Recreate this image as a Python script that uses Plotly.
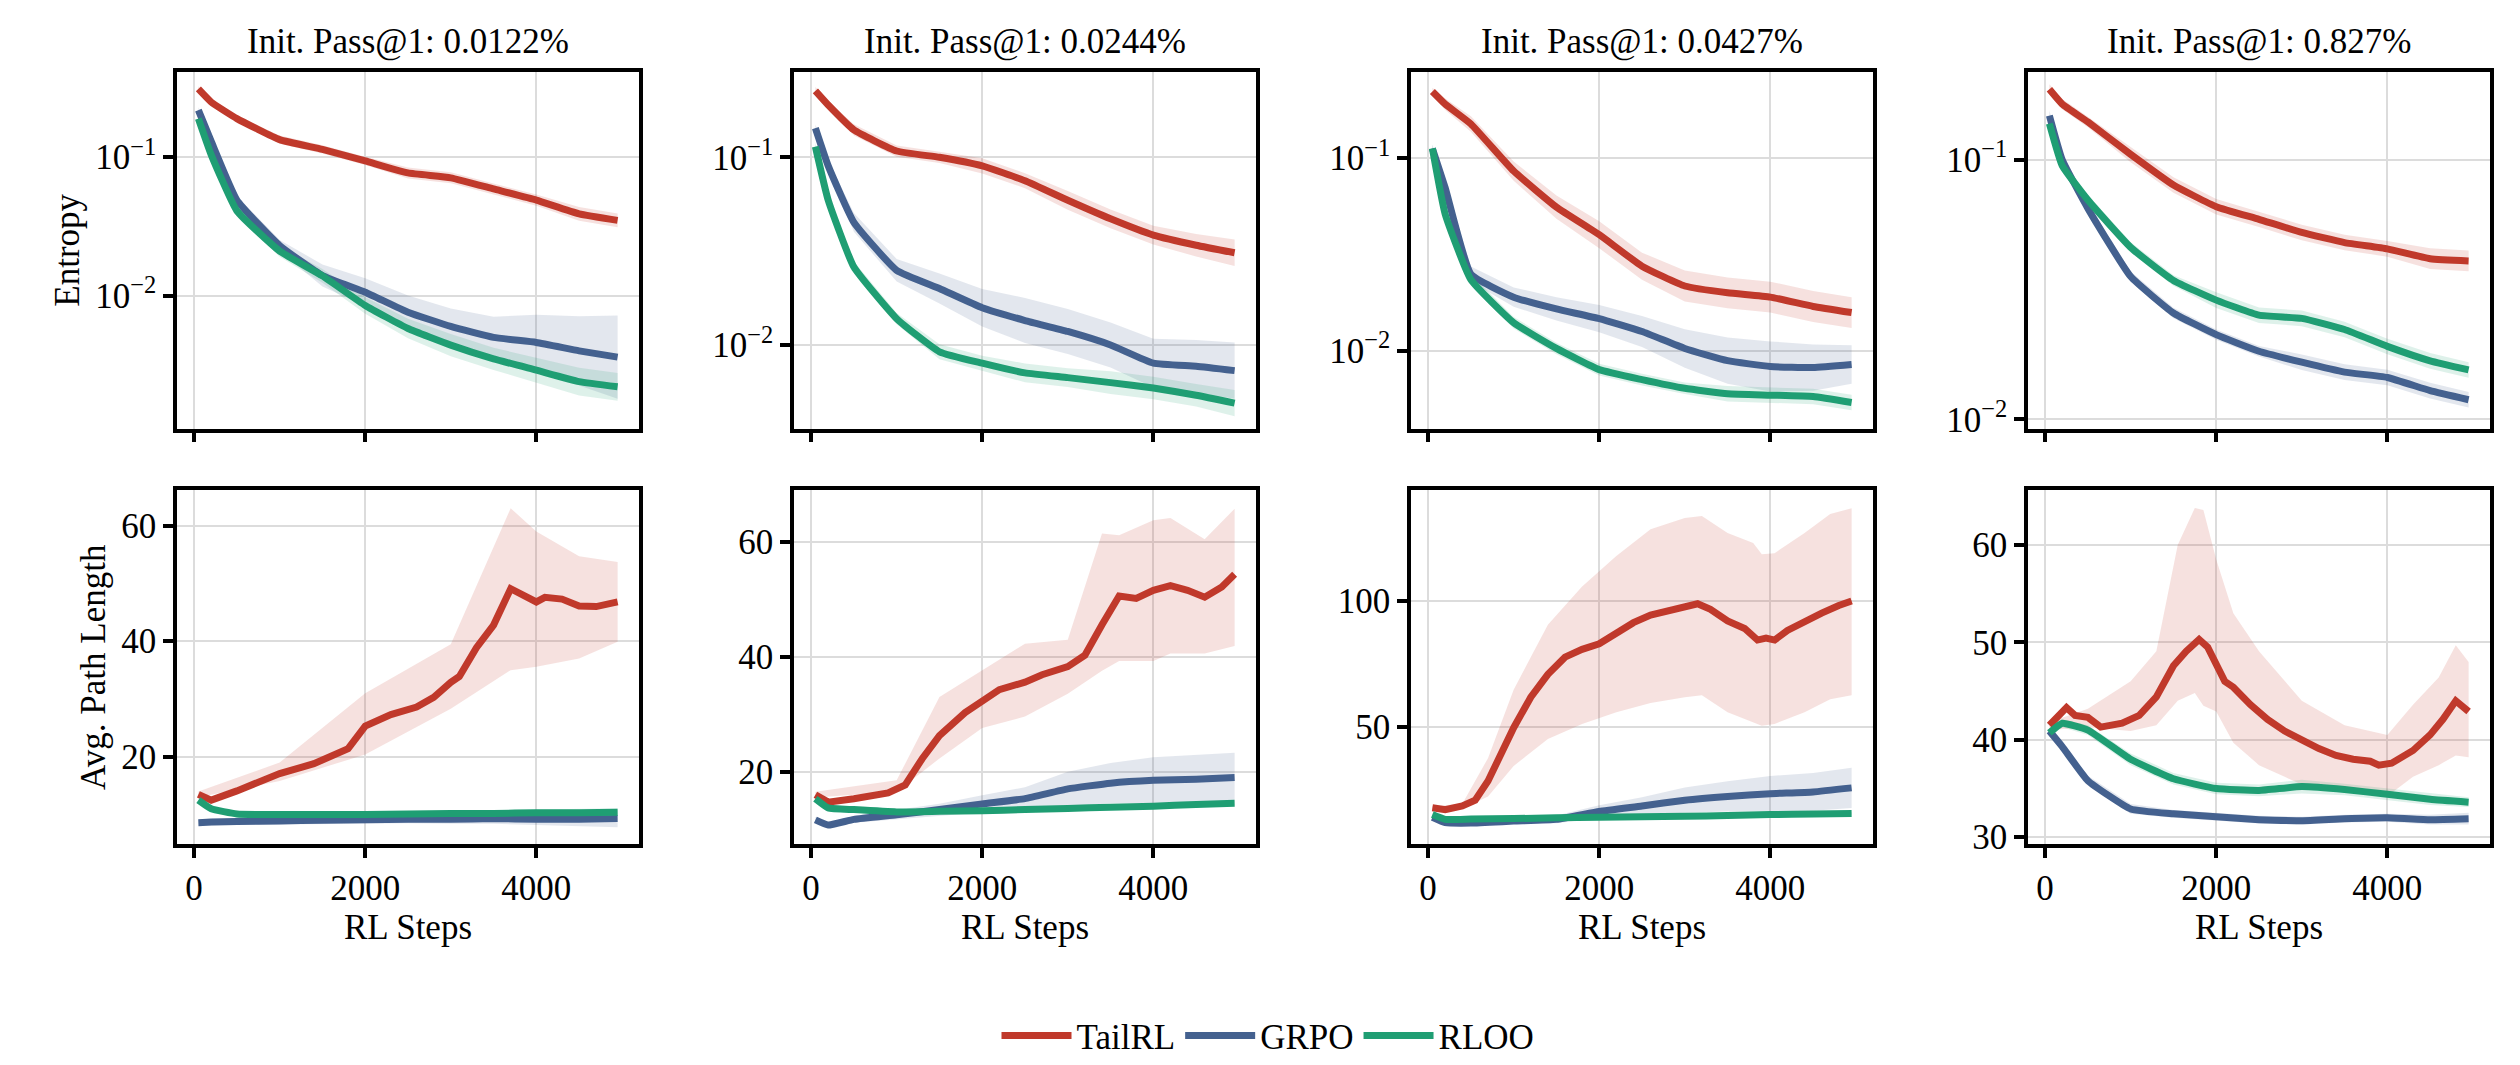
import numpy as np
import plotly.graph_objects as go
from plotly.subplots import make_subplots

METHODS = ["TailRL", "GRPO", "RLOO"]
COLORS = ["#c0392b", "#44618f", "#1f9e73"]
BANDS = ["rgba(192,57,43,0.15)", "rgba(68,97,143,0.15)", "rgba(31,158,115,0.15)"]
TITLES = ["Init. Pass@1: 0.0122%", "Init. Pass@1: 0.0244%",
          "Init. Pass@1: 0.0427%", "Init. Pass@1: 0.827%"]

# entropy, read on a common step grid
ENT_X = [50, 200, 500, 1000, 1500, 2000, 2500, 3000, 3500, 4000, 4500, 4950]
ENT = [
    [[.311, .25, .19, .134, .114, .094, .077, .071, .059, .049, .039, .035],
     [.219, .13, .049, .023, .014, .0106, .0076, .006, .005, .0046, .004, .0036],
     [.19, .104, .041, .021, .0139, .0085, .0058, .0044, .0035, .0029, .0024, .0022]],
    [[.226, .19, .14, .108, .1, .09, .075, .059, .047, .0385, .034, .031],
     [.143, .09, .045, .025, .020, .0158, .0135, .0118, .01, .008, .0077, .0073],
     [.114, .059, .026, .0138, .0092, .008, .0071, .0067, .0063, .0059, .0054, .0049]],
    [[.221, .19, .15, .0855, .0556, .040, .0275, .0217, .020, .019, .017, .0158],
     [.112, .07, .025, .019, .0165, .0147, .0126, .0103, .0089, .0083, .0082, .0085],
     [.112, .051, .0234, .014, .0103, .008, .0071, .0064, .006, .0059, .0058, .0054]],
    [[.187, .164, .14, .105, .08, .066, .059, .0525, .048, .0454, .0416, .0408],
     [.148, .1, .065, .0355, .0257, .0212, .0183, .0166, .0152, .0145, .0129, .0119],
     [.138, .095, .07, .046, .0343, .0288, .0252, .0245, .0222, .0191, .0168, .0155]],
]
# band half-width in decades
ENT_BAND = [
    [[.02, .02, .02, .03, .03, .03, .04, .04, .04, .04, .05, .05],
     [.02, .02, .03, .04, .08, .1, .12, .13, .15, .2, .25, .3],
     [.02, .02, .03, .04, .05, .06, .07, .08, .08, .09, .1, .1]],
    [[.02, .02, .03, .03, .03, .04, .04, .05, .05, .05, .06, .07],
     [.02, .03, .05, .06, .08, .1, .12, .12, .12, .13, .14, .15],
     [.02, .02, .03, .03, .04, .04, .05, .05, .06, .06, .06, .07]],
    [[.02, .03, .04, .05, .06, .07, .07, .08, .08, .08, .08, .08],
     [.02, .03, .04, .05, .06, .07, .08, .1, .12, .13, .12, .1],
     [.02, .02, .03, .03, .03, .03, .03, .03, .04, .04, .04, .04]],
    [[.02, .02, .02, .03, .03, .03, .03, .03, .03, .03, .04, .04],
     [.02, .02, .02, .02, .02, .02, .02, .03, .03, .03, .03, .03],
     [.02, .02, .02, .02, .02, .03, .03, .03, .03, .03, .03, .03]],
]

# avg path length
PL1_RED_X = [50, 200, 500, 800, 1000, 1400, 1600, 1800, 2000, 2300, 2600, 2800, 3000, 3100, 3300, 3500, 3700, 3800, 4000, 4100, 4300, 4500, 4700, 4950]
PL1_RED = [13.5, 12.5, 14.1, 15.8, 17.1, 18.8, 20.1, 21.4, 25.3, 27.3, 28.6, 30.3, 32.9, 33.9, 38.9, 42.8, 49.1, 48.4, 46.8, 47.6, 47.3, 46.1, 46.0, 46.8]
PL1_BX = [50, 1000, 2000, 3000, 3700, 4000, 4500, 4950]
PL1_HI = [14, 19, 31, 39.5, 63, 59, 54.7, 53.7]
PL1_LO = [13, 15.8, 20.4, 28.3, 35, 35.6, 37, 39.9]

PL2_RED_X = [50, 200, 500, 900, 1100, 1300, 1500, 1800, 2000, 2200, 2500, 2700, 3000, 3200, 3400, 3600, 3800, 4000, 4200, 4400, 4600, 4800, 4950]
PL2_RED = [16.0, 14.7, 15.3, 16.3, 17.7, 22.3, 26.3, 30.3, 32.3, 34.3, 35.6, 36.9, 38.3, 40.3, 45.6, 50.6, 50.2, 51.6, 52.4, 51.6, 50.4, 52.2, 54.4]
PL2_BX = [50, 1000, 1500, 2000, 2500, 3000, 3400, 3600, 4000, 4200, 4600, 4950]
PL2_HI = [16.5, 18.5, 33, 37.6, 42.3, 43, 61.5, 61.2, 63.8, 64.2, 60.5, 65.8]
PL2_LO = [15.5, 16.5, 22.3, 27.6, 29.6, 33.6, 37.6, 39.3, 39.3, 40.6, 40.6, 41.9]

PL3_RED_X = [50, 200, 400, 550, 700, 850, 1000, 1200, 1400, 1600, 1800, 2000, 2200, 2400, 2600, 2800, 3000, 3150, 3300, 3500, 3700, 3850, 3950, 4050, 4200, 4400, 4600, 4800, 4950]
PL3_RED = [17.9, 17.1, 18.6, 20.9, 28.5, 39.1, 49.7, 61.8, 70.9, 77.7, 80.8, 83, 87.6, 91.4, 94.4, 95.9, 97.4, 98.9, 96.7, 92.1, 89.1, 84.5, 85.3, 84.5, 88.3, 92.1, 95.2, 98.2, 100]
PL3_BX = [50, 400, 700, 1000, 1400, 1800, 2200, 2600, 3000, 3200, 3500, 3800, 3900, 4050, 4400, 4700, 4950]
PL3_HI = [18.5, 19.5, 37.6, 64.8, 90.6, 105.8, 117.9, 128.5, 133, 133.8, 127, 123, 118.6, 119, 127, 134.5, 136.8]
PL3_LO = [17, 17.5, 22.4, 34.5, 45.2, 51.2, 55.8, 59.5, 61.8, 62.6, 55.8, 52, 50.5, 51.2, 55.8, 61, 62.6]

PL4_RED_X = [50, 150, 250, 350, 500, 650, 900, 1100, 1300, 1500, 1650, 1800, 1900, 2100, 2200, 2400, 2600, 2800, 3000, 3200, 3400, 3600, 3800, 3900, 4050, 4300, 4500, 4650, 4800, 4950]
PL4_RED = [41.5, 42.5, 43.3, 42.5, 42.3, 41.3, 41.7, 42.5, 44.4, 47.6, 49.1, 50.3, 49.5, 46, 45.4, 43.6, 42.1, 40.9, 39.9, 39.1, 38.4, 38, 37.8, 37.4, 37.6, 38.9, 40.5, 42.1, 44, 42.9]
PL4_BX = [50, 500, 1000, 1300, 1550, 1750, 1850, 2000, 2200, 2500, 3000, 3500, 4000, 4300, 4600, 4800, 4950]
PL4_HI = [41.8, 43.2, 46, 49.1, 60, 63.8, 63.6, 58.5, 53, 49.1, 44, 41.5, 40.5, 43.6, 46.4, 49.7, 48]
PL4_LO = [41, 41.3, 40.9, 41.5, 44, 44.8, 43.5, 42.9, 39.7, 37.4, 35.4, 35, 34.2, 36.2, 37.4, 38.4, 38.2]

PL_X = [50, 200, 500, 1000, 1500, 2000, 2500, 3000, 3500, 4000, 4500, 4950]
PL_GRPO = [
    [8.6, 8.7, 8.8, 8.9, 9.0, 9.1, 9.2, 9.2, 9.3, 9.2, 9.2, 9.3],
    [11.6, 10.7, 11.7, 12.5, 13.4, 14.4, 15.3, 17.0, 18.0, 18.5, 18.7, 19.0],
    [14.1, 12.0, 11.8, 12.6, 13.3, 16.4, 18.6, 20.9, 22.4, 23.5, 24.2, 25.8],
    [40.9, 39.3, 35.8, 32.9, 32.4, 32.1, 31.8, 31.7, 31.9, 32.0, 31.8, 31.9],
]
PL_GRPO_BAND = [
    [.6, .6, .6, .6, .6, .6, .7, .8, .9, 1, 1.2, 1.5],
    [.5, .5, .6, .8, 1, 1.5, 2, 3, 3.5, 4, 4.2, 4.3],
    [.5, .5, .8, 1, 1.5, 2.5, 3.5, 5, 6, 7, 7.5, 8],
    [.3, .4, .5, .5, .4, .4, .4, .4, .4, .4, .5, .6],
]
PL_RLOO = [
    [12.5, 11.0, 10.1, 10.0, 10.0, 10.0, 10.1, 10.2, 10.2, 10.3, 10.3, 10.4],
    [15.3, 13.7, 13.4, 13.0, 13.1, 13.2, 13.4, 13.6, 13.8, 14.0, 14.3, 14.5],
    [15.2, 13.3, 13.4, 13.6, 13.9, 14.1, 14.3, 14.5, 14.8, 15.2, 15.4, 15.6],
    [40.7, 41.7, 41.0, 38.0, 36.0, 35.0, 34.8, 35.2, 34.9, 34.4, 33.9, 33.6],
]
PL_RLOO_BAND = [
    [.4, .4, .4, .4, .4, .4, .4, .5, .5, .6, .6, .7],
    [.4, .3, .3, .3, .3, .3, .3, .3, .3, .3, .3, .3],
    [.5, .5, .5, .5, .5, .5, .5, .5, .5, .5, .5, .5],
    [.4, .4, .5, .6, .6, .6, .6, .7, .6, .6, .6, .5],
]
PL_RED = [(PL1_RED_X, PL1_RED, PL1_BX, PL1_HI, PL1_LO), (PL2_RED_X, PL2_RED, PL2_BX, PL2_HI, PL2_LO),
          (PL3_RED_X, PL3_RED, PL3_BX, PL3_HI, PL3_LO), (PL4_RED_X, PL4_RED, PL4_BX, PL4_HI, PL4_LO)]

ENT_RANGE = [[-2.96, -0.384], [-2.446, -0.545], [-2.403, -0.554], [-2.036, -0.661]]
PL_RANGE = [[4.9, 66.1], [7.4, 69], [3.5, 143.9], [29.3, 65.6]]
PL_TICKS = [[20, 40, 60], [20, 40, 60], [50, 100], [30, 40, 50, 60]]

W, H = 2520, 1065
LEFTS = [169, 786, 1403, 2020]
PW = 462
FONT = "Liberation Serif, DejaVu Serif, serif"
FS = 35
LW = 7

fig = make_subplots(rows=2, cols=4)


def band(x, lo, hi, fill, row, col):
    fig.add_scatter(x=x, y=lo, mode="lines", line=dict(width=0), showlegend=False,
                    hoverinfo="skip", row=row, col=col)
    fig.add_scatter(x=x, y=hi, mode="lines", line=dict(width=0), fill="tonexty",
                    fillcolor=fill, showlegend=False, hoverinfo="skip", row=row, col=col)


for c in range(4):
    # entropy row
    for m in range(3):
        v = np.array(ENT[c][m])
        b = np.array(ENT_BAND[c][m])
        band(ENT_X, v / 10 ** b, v * 10 ** b, BANDS[m], 1, c + 1)
    for m in range(3):
        fig.add_scatter(x=ENT_X, y=ENT[c][m], mode="lines", name=METHODS[m],
                        line=dict(color=COLORS[m], width=LW, shape="spline", smoothing=0.4),
                        showlegend=(c == 0), legendgroup=METHODS[m], row=1, col=c + 1)

    # path length row
    rx, ry, bx, hi, lo = PL_RED[c]
    band(bx, lo, hi, BANDS[0], 2, c + 1)
    for m, vals, bw in [(1, PL_GRPO[c], PL_GRPO_BAND[c]), (2, PL_RLOO[c], PL_RLOO_BAND[c])]:
        v = np.array(vals)
        band(PL_X, v - np.array(bw), v + np.array(bw), BANDS[m], 2, c + 1)
    fig.add_scatter(x=rx, y=ry, mode="lines", line=dict(color=COLORS[0], width=LW),
                    showlegend=False, row=2, col=c + 1)
    fig.add_scatter(x=PL_X, y=PL_GRPO[c], mode="lines",
                    line=dict(color=COLORS[1], width=LW, shape="spline", smoothing=0.4),
                    showlegend=False, row=2, col=c + 1)
    fig.add_scatter(x=PL_X, y=PL_RLOO[c], mode="lines",
                    line=dict(color=COLORS[2], width=LW, shape="spline", smoothing=0.4),
                    showlegend=False, row=2, col=c + 1)

    dom = [LEFTS[c] / W, (LEFTS[c] + PW) / W]
    common = dict(showline=True, mirror=True, linecolor="black", linewidth=3.5,
                  ticks="outside", ticklen=10, tickwidth=3.5, tickcolor="black",
                  showgrid=True, gridcolor="#dcdcdc", gridwidth=2, zeroline=False,
                  automargin=False, tickfont=dict(size=FS, family=FONT, color="black"))
    fig.update_xaxes(domain=dom, range=[-200, 5200], tickvals=[0, 2000, 4000],
                     showticklabels=False, row=1, col=c + 1, **common)
    fig.update_xaxes(domain=dom, range=[-200, 5200], tickvals=[0, 2000, 4000],
                     title=dict(text="RL Steps", font=dict(size=FS, family=FONT, color="black"), standoff=4),
                     row=2, col=c + 1, **common)
    fig.update_yaxes(domain=[0.605, 0.94], type="log", range=ENT_RANGE[c],
                     tickvals=[0.01, 0.1], ticktext=["10<sup>−2</sup>", "10<sup>−1</sup>"],
                     row=1, col=c + 1, **common)
    fig.update_yaxes(domain=[0.215, 0.547], range=PL_RANGE[c], tickvals=PL_TICKS[c],
                     row=2, col=c + 1, **common)
    fig.add_annotation(text=TITLES[c], x=(LEFTS[c] + PW / 2) / W, y=0.948, xref="paper", yref="paper",
                       xanchor="center", yanchor="bottom", showarrow=False,
                       font=dict(size=FS, family=FONT, color="black"))

fig.update_yaxes(title=dict(text="Entropy", font=dict(size=FS, family=FONT, color="black"), standoff=6),
                 row=1, col=1)
fig.update_yaxes(title=dict(text="Avg. Path Length", font=dict(size=FS, family=FONT, color="black"), standoff=6),
                 row=2, col=1)

fig.update_layout(
    width=W, height=H, margin=dict(l=0, r=0, t=0, b=0),
    plot_bgcolor="white", paper_bgcolor="white",
    font=dict(family=FONT),
    legend=dict(orientation="h", x=0.5, xanchor="center", y=0.035, yanchor="middle",
                font=dict(size=FS, family=FONT, color="black"), itemwidth=70),
)

fig.write_html("out.html")
